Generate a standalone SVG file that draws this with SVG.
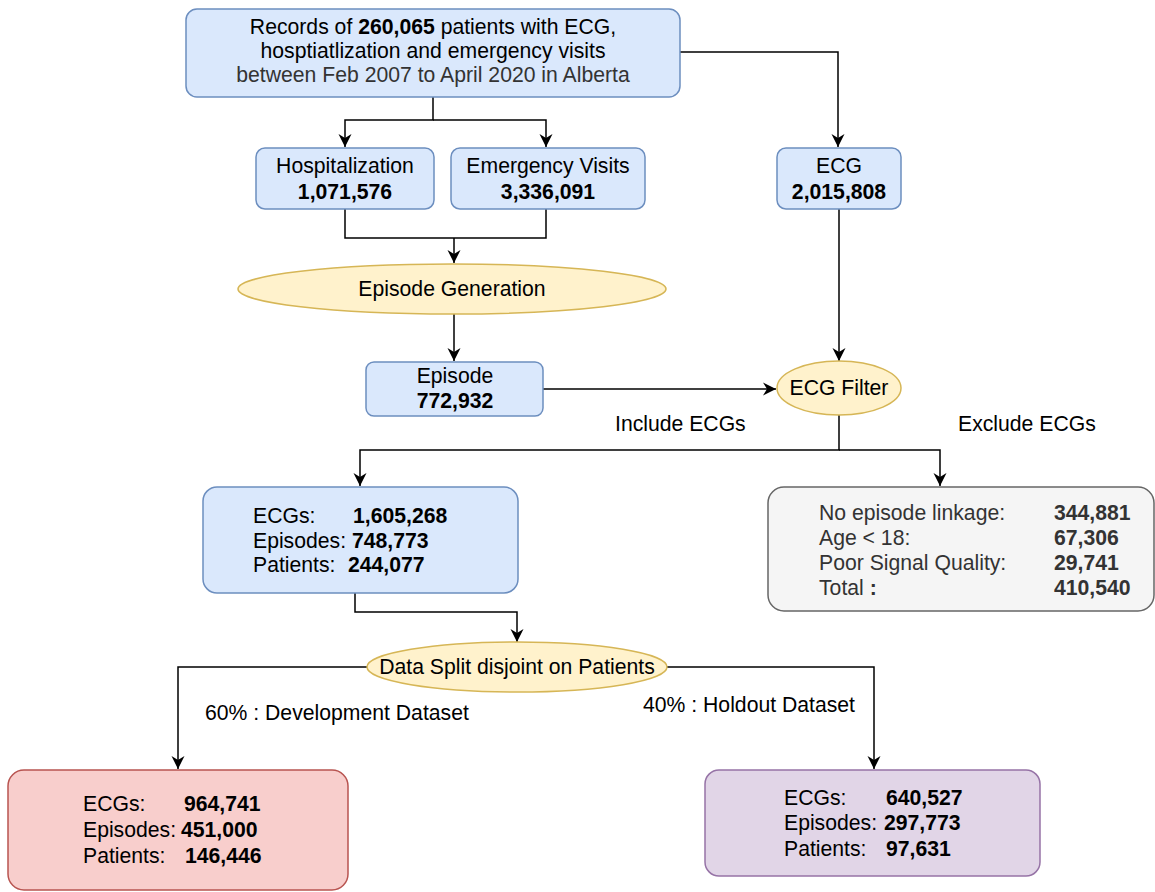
<svg xmlns="http://www.w3.org/2000/svg" width="1155" height="892" viewBox="0 0 1155 892">
<defs>
<marker id="arr" markerWidth="15" markerHeight="15" refX="13" refY="7.5" orient="auto" markerUnits="userSpaceOnUse">
<path d="M0,1 L13,7.5 L0,14 L4,7.5 Z" fill="#000"/>
</marker>
<style>
text{font-family:"Liberation Sans",Arial,Helvetica,sans-serif;font-size:21.2px;fill:#000}
.b{font-weight:bold}
.g{fill:#333}
.blue{fill:#dae8fc;stroke:#6c8ebf;stroke-width:1.5}
.yel{fill:#fff2cc;stroke:#d6b656;stroke-width:1.5}
.grey{fill:#f5f5f5;stroke:#666;stroke-width:1.5}
.red{fill:#f8cecc;stroke:#b85450;stroke-width:1.5}
.pur{fill:#e1d5e7;stroke:#9673a6;stroke-width:1.5}
.c{fill:none;stroke:#000;stroke-width:1.5}
.m{text-anchor:middle}
</style>
</defs>
<g id="connectors">
<path class="c" d="M433,97 V120 H345 V147" marker-end="url(#arr)"/>
<path class="c" d="M433,120 H546 V147" marker-end="url(#arr)"/>
<path class="c" d="M680,52 H838 V147" marker-end="url(#arr)"/>
<path class="c" d="M345,209 V238 H546 V209"/>
<path class="c" d="M454,238 V263" marker-end="url(#arr)"/>
<path class="c" d="M454,314 V361" marker-end="url(#arr)"/>
<path class="c" d="M543,389 H776" marker-end="url(#arr)"/>
<path class="c" d="M839,209 V361" marker-end="url(#arr)"/>
<path class="c" d="M839,415 V450 H360 V486" marker-end="url(#arr)"/>
<path class="c" d="M839,450 H940 V486" marker-end="url(#arr)"/>
<path class="c" d="M355,593 V612 H517 V642" marker-end="url(#arr)"/>
<path class="c" d="M367,667 H178 V769" marker-end="url(#arr)"/>
<path class="c" d="M667,667 H874 V769" marker-end="url(#arr)"/>
<text x="615" y="431">Include ECGs</text>
<text x="958" y="431">Exclude ECGs</text>
<text x="205" y="720">60% : Development Dataset</text>
<text x="643" y="712">40% : Holdout Dataset</text>
</g>
<g id="records">
<rect class="blue" x="186" y="9" width="494" height="88" rx="11"/>
<text class="m" x="433" y="34">Records of <tspan class="b">260,065</tspan> patients with ECG,</text>
<text class="m" x="433" y="58">hosptiatlization and emergency visits</text>
<text class="m g" x="433" y="82">between Feb 2007 to April 2020 in Alberta</text>
</g>
<g id="hospitalization">
<rect class="blue" x="256" y="148" width="178" height="61" rx="9"/>
<text class="m" x="345" y="173">Hospitalization</text>
<text class="m b" x="345" y="199">1,071,576</text>
</g>
<g id="emergency">
<rect class="blue" x="451" y="148" width="194" height="61" rx="9"/>
<text class="m" x="548" y="173">Emergency Visits</text>
<text class="m b" x="548" y="199">3,336,091</text>
</g>
<g id="ecg">
<rect class="blue" x="777" y="148" width="124" height="61" rx="9"/>
<text class="m" x="839" y="173">ECG</text>
<text class="m b" x="839" y="199">2,015,808</text>
</g>
<g id="episode-generation">
<ellipse class="yel" cx="452" cy="289" rx="214" ry="25"/>
<text class="m" x="452" y="296">Episode Generation</text>
</g>
<g id="episode">
<rect class="blue" x="366" y="362" width="177" height="54" rx="8"/>
<text class="m" x="455" y="383">Episode</text>
<text class="m b" x="455" y="408">772,932</text>
</g>
<g id="ecg-filter">
<ellipse class="yel" cx="839" cy="388" rx="62" ry="27"/>
<text class="m" x="839" y="395">ECG Filter</text>
</g>
<g id="included">
<rect class="blue" x="203" y="487" width="315" height="106" rx="14"/>
<text x="253" y="523">ECGs:</text><text class="b" x="353" y="523">1,605,268</text>
<text x="253" y="548">Episodes:</text><text class="b" x="352" y="548">748,773</text>
<text x="253" y="572">Patients:</text><text class="b" x="348" y="572">244,077</text>
</g>
<g id="excluded">
<rect class="grey" x="768" y="487" width="386" height="124" rx="16"/>
<text class="g" x="819" y="520">No episode linkage:</text><text class="b g" x="1054" y="520">344,881</text>
<text class="g" x="819" y="545">Age &lt; 18:</text><text class="b g" x="1054" y="545">67,306</text>
<text class="g" x="819" y="570">Poor Signal Quality:</text><text class="b g" x="1054" y="570">29,741</text>
<text class="g" x="819" y="595">Total <tspan class="b">:</tspan></text><text class="b g" x="1054" y="595">410,540</text>
</g>
<g id="data-split">
<ellipse class="yel" cx="517" cy="667" rx="150" ry="25"/>
<text class="m" x="517" y="674">Data Split disjoint on Patients</text>
</g>
<g id="development">
<rect class="red" x="8" y="770" width="340" height="120" rx="16"/>
<text x="83" y="811">ECGs:</text><text class="b" x="184" y="811">964,741</text>
<text x="83" y="837">Episodes:</text><text class="b" x="181" y="837">451,000</text>
<text x="83" y="863">Patients:</text><text class="b" x="185" y="863">146,446</text>
</g>
<g id="holdout">
<rect class="pur" x="705" y="770" width="335" height="106" rx="14"/>
<text x="784" y="805">ECGs:</text><text class="b" x="886" y="805">640,527</text>
<text x="784" y="830">Episodes:</text><text class="b" x="884" y="830">297,773</text>
<text x="784" y="856">Patients:</text><text class="b" x="886" y="856">97,631</text>
</g>
</svg>
